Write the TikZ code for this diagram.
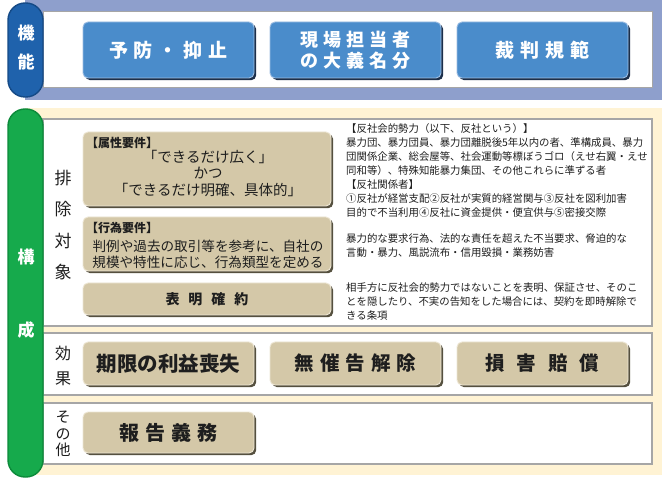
\documentclass[tikz,border=0pt]{standalone}
\usepackage{fontspec}
\setmainfont{Noto Sans CJK JP}
\usetikzlibrary{shadows}
\definecolor{lav}{HTML}{8E9FCC}
\definecolor{tabblue}{HTML}{1F62AC}
\definecolor{tabblueedge}{HTML}{154A86}
\definecolor{btnblue}{HTML}{4A8CCB}
\definecolor{btnedge}{HTML}{9CBDE2}
\definecolor{btnshadow}{HTML}{1C2F4A}
\definecolor{tabgreen}{HTML}{16AA4C}
\definecolor{tabgreenedge}{HTML}{0C8A3A}
\definecolor{cream}{HTML}{FFF3D4}
\definecolor{panelgray}{HTML}{A6A6A6}
\definecolor{tan}{HTML}{D4C8A8}
\definecolor{tanedge}{HTML}{EDE6D4}
\definecolor{tanshadow}{HTML}{55503F}
\definecolor{ink}{HTML}{1E1E1E}
\newcommand\jg[1][5]{\hspace{#1pt}}
\begin{document}
\begin{tikzpicture}[x=1pt,y=-1pt,
  panel/.style={fill=white,draw=panelgray,line width=1.3pt},
  btn/.style={fill=btnblue,draw=btnedge,line width=0.9pt,rounded corners=5pt,
    minimum width=171pt,minimum height=56pt,inner sep=0pt,text=white,align=center,
    font=\fontsize{19}{21}\selectfont\bfseries,
    drop shadow={shadow xshift=2.2pt,shadow yshift=-2.2pt,fill=btnshadow,opacity=1}},
  tanbox/.style={fill=tan,draw=tanedge,line width=0.9pt,rounded corners=5pt,
    minimum width=248pt,inner sep=0pt,text=ink,align=center,
    drop shadow={shadow xshift=2.2pt,shadow yshift=-2.2pt,fill=tanshadow,opacity=1}},
  effbox/.style={tanbox,minimum width=171pt,minimum height=43pt,
    font=\fontsize{19.5}{22}\selectfont\bfseries},
  tag/.style={anchor=west,inner sep=0pt,text=ink,font=\fontsize{12}{14}\selectfont\bfseries},
  boxtext/.style={inner sep=0pt,text=ink,align=center,font=\fontsize{14.5}{16.5}\selectfont},
  side/.style={inner sep=0pt,text=ink,align=center},
  tablabel/.style={inner sep=0pt,text=white,align=center,font=\fontsize{17}{29}\selectfont\bfseries},
  desc/.style={anchor=north west,inner sep=0pt,text=ink,align=left,font=\fontsize{10.4}{14}\selectfont}
]
\useasboundingbox (0,0) rectangle (662,481);
\fill[white] (0,0) rectangle (662,481);
% top band
\fill[lav] (25,0) rectangle (662,100);
\draw[panel,line width=1pt] (43,12) rectangle (652,88);
\fill[tabblue,rounded corners=17pt] (8,3) rectangle (43,97);
\draw[tabblueedge,line width=1.4pt,rounded corners=17pt] (8,3) rectangle (43,97);
\node[tablabel] (kinou) at (26,48) {機\\能};
% buttons
\node[btn] (b1) at (168.5,50) {予\jg[6]防\jg[6]・\jg[6]抑\jg[6]止};
\node[btn,font=\fontsize{18}{21}\selectfont\bfseries] (b2) at (355.5,50) {現\jg 場\jg 担\jg 当\jg 者\\の\jg 大\jg 義\jg 名\jg 分};
\node[btn] (b3) at (542.5,50) {裁\jg[6]判\jg[6]規\jg[6]範};
% lower cream area
\fill[cream] (25,108) rectangle (662,475);
\draw[panel] (43,119) rectangle (652,326);
\draw[panel] (43,333) rectangle (652,395);
\draw[panel] (43,403) rectangle (652,464);
\fill[tabgreen,rounded corners=17pt] (8,109) rectangle (43,477);
\draw[tabgreenedge,line width=1.4pt,rounded corners=17pt] (8,109) rectangle (43,477);
\node[tablabel] (kou) at (26,257) {構};
\node[tablabel] (sei) at (26,330) {成};
% side labels
\node[side,font=\fontsize{17}{31.5}\selectfont] (haijo) at (63,225) {排\\除\\対\\象};
\node[side,font=\fontsize{16}{25}\selectfont] (kouka) at (63,366) {効\\果};
\node[side,font=\fontsize{15}{16.5}\selectfont] (sonota) at (63,434) {そ\\の\\他};
% tan boxes in panel 1
\node[tanbox,minimum height=74pt] (boxA) at (207,169) {};
\node[tag] (tagA) at (86,143) {【属性要件】};
\node[boxtext] (txtA) at (208,173) {「できるだけ広く」\\かつ\\「できるだけ明確、具体的」};
\node[tanbox,minimum height=54pt] (boxB) at (207,244) {};
\node[tag] (tagB) at (86,228) {【行為要件】};
\node[boxtext,font=\fontsize{13.6}{16}\selectfont] (txtB) at (208,254) {判例や過去の取引等を参考に、自社の\\規模や特性に応じ、行為類型を定める};
\node[tanbox,minimum height=32pt,font=\fontsize{14}{16}\selectfont\bfseries] (boxC) at (207,299) {表\jg[9]明\jg[9]確\jg[9]約};
% descriptions
\node[desc] (descA) at (346,123) {【反社会的勢力（以下、反社という）】\\暴力団、暴力団員、暴力団離脱後5年以内の者、準構成員、暴力\\団関係企業、総会屋等、社会運動等標ぼうゴロ（えせ右翼・えせ\\同和等）、特殊知能暴力集団、その他これらに準ずる者\\【反社関係者】\\①反社が経営支配②反社が実質的経営関与③反社を図利加害\\目的で不当利用④反社に資金提供・便宜供与⑤密接交際};
\node[desc] (descB) at (346,234) {暴力的な要求行為、法的な責任を超えた不当要求、脅迫的な\\言動・暴力、風説流布・信用毀損・業務妨害};
\node[desc] (descC) at (346,283) {相手方に反社会的勢力ではないことを表明、保証させ、そのこ\\とを隠したり、不実の告知をした場合には、契約を即時解除で\\きる条項};
% effect boxes
\node[effbox,font=\fontsize{20.5}{22}\selectfont\bfseries] (e1) at (168.5,363.5) {期限の利益喪失};
\node[effbox] (e2) at (355.5,363.5) {無\jg[6]催\jg[6]告\jg[6]解\jg[6]除};
\node[effbox] (e3) at (542.5,363.5) {損\jg[12]害\jg[12]賠\jg[12]償};
\node[effbox,minimum height=41pt,font=\fontsize{20}{22}\selectfont\bfseries] (e4) at (168.5,432.5) {報\jg[6]告\jg[6]義\jg[6]務};
\end{tikzpicture}
\end{document}
